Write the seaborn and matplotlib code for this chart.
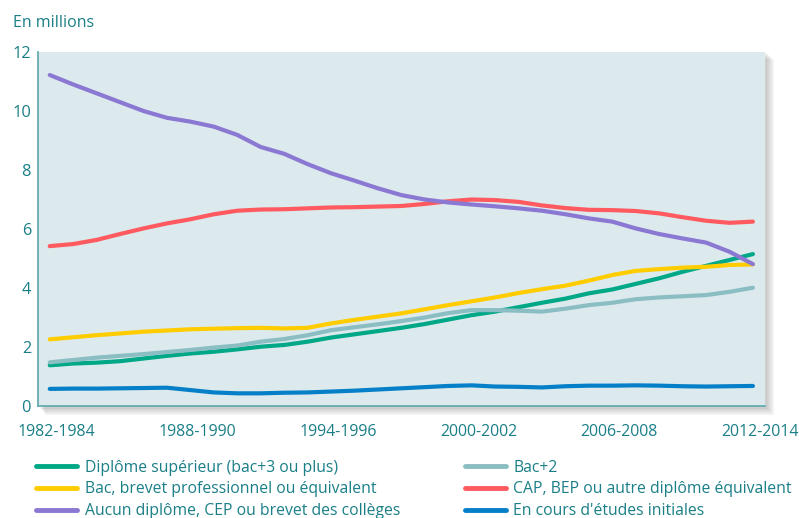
import matplotlib
matplotlib.use("Agg")
import matplotlib.pyplot as plt
import matplotlib.transforms as mtransforms
from matplotlib.patches import Rectangle
import seaborn as sns
import pandas as pd

periods = [f"{y}-{y + 2}" for y in range(1982, 2013)]

diplome_sup = [1.38, 1.44, 1.47, 1.52, 1.61, 1.70, 1.78, 1.84, 1.92, 2.01, 2.07,
               2.18, 2.32, 2.43, 2.54, 2.65, 2.78, 2.93, 3.08, 3.20, 3.35, 3.50,
               3.64, 3.82, 3.95, 4.14, 4.33, 4.55, 4.75, 4.95, 5.15]
bac2 = [1.48, 1.56, 1.64, 1.70, 1.76, 1.83, 1.90, 1.98, 2.05, 2.18, 2.27,
        2.40, 2.57, 2.67, 2.77, 2.88, 3.00, 3.15, 3.25, 3.25, 3.23, 3.20,
        3.30, 3.42, 3.50, 3.62, 3.68, 3.72, 3.76, 3.87, 4.01]
bac = [2.26, 2.33, 2.40, 2.46, 2.52, 2.56, 2.60, 2.62, 2.64, 2.65, 2.63,
       2.65, 2.80, 2.92, 3.03, 3.14, 3.28, 3.42, 3.55, 3.68, 3.83, 3.96,
       4.08, 4.25, 4.44, 4.58, 4.64, 4.69, 4.72, 4.78, 4.80]
cap_bep = [5.42, 5.49, 5.63, 5.83, 6.02, 6.19, 6.33, 6.50, 6.62, 6.66, 6.67,
           6.70, 6.73, 6.74, 6.76, 6.78, 6.85, 6.94, 7.00, 6.98, 6.92, 6.80,
           6.71, 6.65, 6.64, 6.61, 6.53, 6.40, 6.28, 6.21, 6.25]
aucun = [11.22, 10.90, 10.60, 10.30, 10.00, 9.77, 9.64, 9.47, 9.19, 8.78, 8.55,
         8.20, 7.89, 7.64, 7.38, 7.15, 7.00, 6.90, 6.83, 6.77, 6.70, 6.62,
         6.50, 6.36, 6.25, 6.02, 5.83, 5.68, 5.54, 5.23, 4.81]
en_cours = [0.58, 0.59, 0.59, 0.60, 0.61, 0.62, 0.54, 0.46, 0.43, 0.43, 0.45,
            0.46, 0.49, 0.52, 0.56, 0.60, 0.64, 0.68, 0.70, 0.66, 0.65, 0.63,
            0.67, 0.69, 0.69, 0.70, 0.69, 0.67, 0.66, 0.67, 0.68]

series = {
    "Diplôme supérieur (bac+3 ou plus)": diplome_sup,
    "Bac+2": bac2,
    "Bac, brevet professionnel ou équivalent": bac,
    "CAP, BEP ou autre diplôme équivalent": cap_bep,
    "Aucun diplôme, CEP ou brevet des collèges": aucun,
    "En cours d'études initiales": en_cours,
}
colors = {
    "Diplôme supérieur (bac+3 ou plus)": "#00a887",
    "Bac+2": "#8bbec2",
    "Bac, brevet professionnel ou équivalent": "#ffcc00",
    "CAP, BEP ou autre diplôme équivalent": "#ff5a5f",
    "Aucun diplôme, CEP ou brevet des collèges": "#8b78d3",
    "En cours d'études initiales": "#0580c8",
}
# legend reads row by row, matplotlib fills column by column
legend_order = [
    "Diplôme supérieur (bac+3 ou plus)",
    "Bac, brevet professionnel ou équivalent",
    "Aucun diplôme, CEP ou brevet des collèges",
    "Bac+2",
    "CAP, BEP ou autre diplôme équivalent",
    "En cours d'études initiales",
]

rows = []
for name, vals in series.items():
    for i, v in enumerate(vals):
        rows.append({"idx": i, "periode": periods[i], "valeur": v, "serie": name})
df = pd.DataFrame(rows)

text_col = "#1a7f87"
sns.set_style("white")
plt.rcParams["font.family"] = ["Open Sans", "DejaVu Sans"]

fig = plt.figure(figsize=(7.99, 5.18), dpi=100)
ax_box = [0.0476, 0.2162, 0.9094, 0.6834]
ax = fig.add_axes(ax_box)
ax.set_zorder(2)

# soft shadow behind the plot area
for k in range(8):
    off = 0.002 + k * 0.0012
    fig.patches.append(Rectangle((ax_box[0] + off, ax_box[1] - off * 1.5),
                                 ax_box[2], ax_box[3],
                                 transform=fig.transFigure, color="black",
                                 alpha=0.022, zorder=-5))

ax.set_facecolor("#dceaee")
sns.lineplot(data=df, x="idx", y="valeur", hue="serie", palette=colors,
             linewidth=3.0, ax=ax, legend=True)

ax.set_xlim(-0.5, 30.5)
ax.set_ylim(0, 12)
ax.set_xlabel("")
ax.set_ylabel("")

ax.set_xticks(range(0, 31, 6))
ax.set_xticklabels([periods[i] for i in range(0, 31, 6)])
ax.set_xticks([i + 0.5 for i in range(-1, 31)], minor=True)
ax.tick_params(axis="x", which="major", length=0, pad=13, labelsize=11.4,
               labelcolor=text_col)
ax.tick_params(axis="x", which="minor", length=4, width=1, color=text_col,
               direction="out")
# the period labels sit a little right of their points in the original
shift = mtransforms.ScaledTranslation(7 / 100, 0, fig.dpi_scale_trans)
for lab in ax.get_xticklabels():
    lab.set_transform(lab.get_transform() + shift)

ax.set_yticks(range(0, 13, 2))
ax.tick_params(axis="y", length=3, width=1, color=text_col, labelsize=11.8,
               labelcolor=text_col, pad=2)

for s in ["top", "right"]:
    ax.spines[s].set_visible(False)
for s in ["left", "bottom"]:
    ax.spines[s].set_color("#5aa7ad")
    ax.spines[s].set_linewidth(1.2)

fig.text(0.016, 0.955, "En millions", color=text_col, fontsize=11.5,
         va="center", ha="left")

handles, labels = ax.get_legend_handles_labels()
hmap = dict(zip(labels, handles))
ax.get_legend().remove()
leg = fig.legend([hmap[n] for n in legend_order], legend_order, ncol=2,
                 loc="upper left", bbox_to_anchor=(0.037, 0.125), frameon=False,
                 fontsize=11.3, handlelength=2.65, handletextpad=0.47,
                 columnspacing=4.1, labelspacing=0.37, borderaxespad=0)
for t in leg.get_texts():
    t.set_color(text_col)
for h in leg.get_lines():
    h.set_linewidth(3.5)

fig.savefig("out.png", dpi=100)
